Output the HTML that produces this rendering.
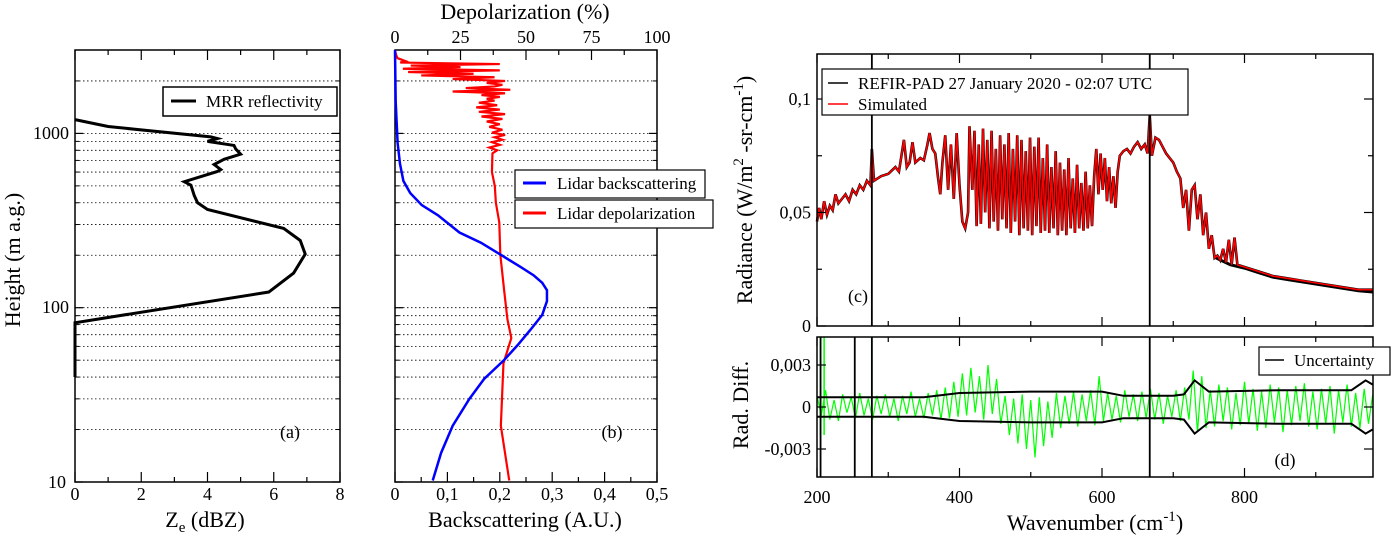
<!DOCTYPE html>
<html><head><meta charset="utf-8"><style>
html,body{margin:0;padding:0;background:#fff}
svg, svg text{font-family:"Liberation Serif","Times New Roman",serif}
</style></head><body>
<svg id="fig" width="1393" height="537" viewBox="0 0 1393 537" xmlns="http://www.w3.org/2000/svg" font-family="Liberation Serif, serif"></svg>
<script>
// Panel (a) MRR reflectivity
const aZe=[0,1.0,4.1,4.3,4.0,4.8,4.85,5.0,4.5,4.2,4.4,4.3,3.3,3.5,3.6,3.7,4.0,6.3,6.8,6.95,6.6,5.85,0,0];
const aH=[1200,1095,955,934,900,853,815,760,710,663,620,605,528,505,440,400,366,285,243,203,158,123,82,40];
// Panel (b) lidar backscattering
const bH=[3006,1520,881,670,534,455,388,339,270,236,201,171,153,139,126,109,91,75,61,50,39,30,21,14.7,10.2];
const bBack=[0,.0013,.005,.0095,.016,.029,.051,.082,.123,.164,.202,.24,.265,.281,.290,.290,.281,.259,.234,.208,.170,.142,.110,.088,.072];
// Panel (b) lidar depolarization (%)
const dH=[10.2,21,48,67,86,124,201,309,400,498,600,768,800,830,860,890,920,950,980,1010,1050,1090,1130,1170,1210,1250,1290,1330,1370,1410,1450,1500,1540,1580,1620,1660,1700,1740,1780,1820,1860,1900,1950,2000,2050,2100,2150,2200,2250,2300,2350,2400,2450,2500,2550,2600,2700,2800,3000];
const dVal=[43.6,40.4,41.4,44.4,42.9,41.7,40.2,39.8,38.5,38.1,37,37.2,39,36,40,37,41,38,42,37,41,36,40,35,41,33,42,32,40,31,39,32,38,35,40,33,42,22,44,27,38,41,35,42,22,38,10,30,5,40,3,25,6,40,2,4,1,0.5,0];
// Panel (c) spectrum
const cWn=[200,203,206,210,214,218,222,226,230,235,240,245,250,255,260,265,270,275,277,280,290,300,310,315,322,326,330,334,338,345,350,355,358,362,366,370,373,376,380,384,388,392,396,400,404,408,412,414,418,421,424,427,430,433,436,439,442,445,448,451,454,457,460,463,466,469,472,475,478,481,484,487,490,493,496,499,502,505,508,511,514,517,520,523,526,529,532,535,538,541,544,547,550,553,556,559,562,565,568,571,574,577,580,583,586,589,592,595,598,601,604,607,610,613,616,619,622,625,630,635,640,645,650,655,660,664,667,670,675,680,685,690,695,700,705,710,714,718,722,726,730,734,738,742,746,750,754,758,762,766,770,774,778,782,786,790,800,820,840,860,880,900,920,940,960,980];
const cRad=[.046,.052,.047,.055,.049,.053,.051,.058,.054,.056,.058,.055,.060,.058,.062,.060,.064,.062,.078,.064,.066,.067,.070,.068,.082,.070,.072,.081,.072,.074,.073,.080,.085,.078,.076,.065,.058,.072,.084,.060,.080,.056,.085,.062,.046,.043,.050,.088,.060,.086,.044,.080,.045,.087,.050,.082,.043,.086,.046,.078,.042,.084,.047,.080,.043,.085,.041,.078,.046,.084,.040,.082,.043,.077,.042,.083,.040,.079,.044,.083,.041,.074,.042,.080,.041,.070,.043,.077,.040,.072,.042,.069,.040,.074,.043,.065,.041,.071,.043,.063,.042,.068,.043,.062,.044,.066,.078,.058,.076,.060,.074,.055,.070,.054,.066,.052,.068,.075,.077,.078,.076,.079,.081,.078,.080,.076,.093,.075,.083,.082,.079,.076,.074,.072,.068,.065,.052,.060,.042,.060,.062,.047,.058,.040,.050,.034,.040,.030,.031,.029,.034,.028,.038,.027,.039,.027,.026,.024,.022,.021,.020,.019,.018,.017,.016,.016];
const cTailWn=[760,780,800,820,840,860,880,900,920,940,960,980];
const cTailMeas=[.030,.027,.0255,.0235,.0215,.0205,.0195,.0185,.0175,.0165,.0155,.015];
// Panel (d) residuals (x1e-3) at 6 cm-1 steps from 200
const gStart=200, gStep=6;
const gRes=[.8,-.6,1.2,-.9,.5,-1.0,.9,-.4,.7,-.8,1.0,-.6,.6,-.9,.8,-.5,.9,-.7,.6,-1.0,.8,-.5,1.1,-.7,.6,-.8,
1.0,-.6,1.2,-.9,1.4,-.8,1.8,-.7,
2.4,-.6,2.8,-.4,2.2,-.9,3.0,-.5,2.0,-1.2,
.8,-2.0,.6,-2.6,.9,-3.0,.5,-3.6,.7,-2.8,.4,-2.2,
1.0,-1.5,.8,-1.2,1.1,-1.4,.9,-1.0,1.2,-1.3,2.2,-1.0,
1.0,-.9,.8,-1.1,1.2,-.7,.9,-1.0,1.1,-.8,1.3,-.9,1.0,-1.2,.8,-.7,1.2,-1.0,1.4,-.9,
2.6,-1.8,2.2,-1.5,
1.2,-1.4,1.6,-1.0,1.4,-1.6,1.0,-1.3,1.8,-1.2,1.3,-1.7,1.1,-1.5,1.6,-1.1,1.4,-1.8,1.2,-1.3,1.5,-1.0,1.7,-1.4,1.1,-1.6,1.3,-1.2,1.5,-1.9,1.2,-1.1,1.6,-1.4,1.0,-1.5,1.3,-1.2,.9];
const uWn=[200,350,400,500,600,630,700,715,730,750,850,950,970,980];
const uVal=[.0007,.0007,.001,.0011,.0011,.0008,.0008,.0009,.0019,.0011,.0012,.0012,.0019,.0016];
const spikeWn=[205,253,277,667];

const NS="http://www.w3.org/2000/svg";
const svg=document.getElementById('fig');
function el(tag,attrs,parent,text){const e=document.createElementNS(NS,tag);for(const k in attrs)e.setAttribute(k,attrs[k]);if(text!==undefined)e.textContent=text;(parent||svg).appendChild(e);return e;}
const FF='Liberation Serif, serif';

const yLog=h=>482-(Math.log10(h)-1)*174.3;
const xA=v=>75+v*33.125;
const xB=v=>395+v*524;
const xDp=p=>395+p*2.62;
const xC=w=>817+(w-200)*0.7125;
const yC=r=>326-r*2270;
const yD=v=>407-v*14000;

function box(x,y,w,h,name){const r=el('rect',{x,y,width:w,height:h,fill:'none',stroke:'#000','stroke-width':1.5});}
function txt(x,y,s,opts,name){const t=el('text',Object.assign({x,y,'font-size':17,fill:'#000','font-family':FF},opts||{}),svg,s);return t;}

const gridH=[20,30,40,50,60,70,80,90,100,200,300,400,500,600,700,800,900,1000,2000];
[[75,340,'a'],[395,657,'b']].forEach(([x0,x1,p])=>{
  gridH.forEach(h=>{const l=el('line',{x1:x0,x2:x1,y1:yLog(h),y2:yLog(h),stroke:'#000','stroke-width':0.8,'stroke-dasharray':'1.5,2.5'});});
  [10,100,1000].forEach(h=>{[[x0,x0+8],[x1,x1-8]].forEach(([a,b])=>{const l=el('line',{x1:a,x2:b,y1:yLog(h),y2:yLog(h),stroke:'#000','stroke-width':1.2});});});
  [20,30,40,50,60,70,80,90,200,300,400,500,600,700,800,900,2000].forEach(h=>{[[x0,x0+4],[x1,x1-4]].forEach(([a,b])=>{const l=el('line',{x1:a,x2:b,y1:yLog(h),y2:yLog(h),stroke:'#000','stroke-width':1});});});
});
box(75,50,265,432,'panel-a-frame');
box(395,50,262,432,'panel-b-frame');

for(let v=0;v<=8;v++){const len=v%2==0?10:5;[[482,482-len],[50,50+len]].forEach(([a,b])=>{const l=el('line',{x1:xA(v),x2:xA(v),y1:a,y2:b,stroke:'#000','stroke-width':1.2});});
 if(v%2==0)txt(xA(v),500,String(v),{'text-anchor':'middle','font-size':18},'x-tick-label-a');}
[[10,488],[100,313],[1000,139]].forEach(([h,y])=>txt(h==10?66:69,y,String(h),{'text-anchor':'end','font-size':18},'y-tick-label'));
txt(20,260,'Height (m a.g.)',{'text-anchor':'middle','font-size':22,transform:'rotate(-90 20 260)'},'y-axis-title-a');
const zt=el('text',{x:205,y:527,'font-size':22,'text-anchor':'middle','font-family':FF});
el('tspan',{},zt,'Z');el('tspan',{'font-size':15,dy:5},zt,'e');el('tspan',{dy:-5},zt,' (dBZ)');

let pa=aZe.map((v,i)=>xA(v)+','+yLog(aH[i])).join(' ');
let la=el('polyline',{points:pa,fill:'none',stroke:'#000','stroke-width':3});
box(163,87,174,29,'legend-a');
el('line',{x1:171,x2:196,y1:101,y2:101,stroke:'#000','stroke-width':3});
txt(206,107,'MRR reflectivity',{},'legend-entry-mrr');
txt(290,438,'(a)',{'font-size':18,'text-anchor':'middle'},'panel-label-a');

for(let i=0;i<=10;i++){const v=i*0.05;const len=i%2==0?10:5;const l=el('line',{x1:xB(v),x2:xB(v),y1:482,y2:482-len,stroke:'#000','stroke-width':1.2});
 if(i%2==0)txt(xB(v),500,i==0?'0':('0,'+(i/2)),{'text-anchor':'middle','font-size':18},'x-tick-label-b');}
for(let i=0;i<=8;i++){const p=i*12.5;const len=i%2==0?10:5;const l=el('line',{x1:xDp(p),x2:xDp(p),y1:50,y2:50+len,stroke:'#000','stroke-width':1.2});
 if(i%2==0)txt(xDp(p),43,String(p),{'text-anchor':'middle','font-size':18},'top-tick-label-b');}
txt(525,19,'Depolarization (%)',{'text-anchor':'middle','font-size':22},'top-axis-title-b');
txt(525,527,'Backscattering (A.U.)',{'text-anchor':'middle','font-size':22},'x-axis-title-b');
let pd=dVal.map((v,i)=>xDp(v)+','+yLog(dH[i])).join(' ');
let ld=el('polyline',{points:pd,fill:'none',stroke:'#f00','stroke-width':2.2});
let pb=bBack.map((v,i)=>xB(v)+','+yLog(bH[i])).join(' ');
let lb=el('polyline',{points:pb,fill:'none',stroke:'#00f','stroke-width':2.5});
el('rect',{x:515,y:170,width:190,height:28,fill:'#fff',stroke:'#000','stroke-width':1.2});
el('line',{x1:523,x2:546,y1:183,y2:183,stroke:'#00f','stroke-width':3});
txt(557,189,'Lidar backscattering',{},'legend-entry-backscatter');
el('rect',{x:515,y:200,width:198,height:28,fill:'#fff',stroke:'#000','stroke-width':1.2});
el('line',{x1:523,x2:546,y1:213,y2:213,stroke:'#f00','stroke-width':3});
txt(557,219,'Lidar depolarization',{},'legend-entry-depol');
txt(612,438,'(b)',{'font-size':18,'text-anchor':'middle'},'panel-label-b');

const pc=cWn.map((w,i)=>xC(w)+','+yC(cRad[i])).join(' ');
let lm=el('polyline',{points:pc,fill:'none',stroke:'#000','stroke-width':2.6});
let lt=el('polyline',{points:cTailWn.map((w,i)=>xC(w)+','+yC(cTailMeas[i])).join(' '),fill:'none',stroke:'#000','stroke-width':3});
let ls=el('polyline',{points:pc,fill:'none',stroke:'#f00','stroke-width':1.6});
[277,667].forEach(w=>{const l=el('line',{x1:xC(w),x2:xC(w),y1:54,y2:326,stroke:'#000','stroke-width':1.8});});
box(817,54,556,272,'panel-c-frame');
for(let w=200;w<=900;w+=100){const len=w%200==0?9:5;[[326,326-len],[54,54+len]].forEach(([a,b])=>{const l=el('line',{x1:xC(w),x2:xC(w),y1:a,y2:b,stroke:'#000','stroke-width':1.2});});}
[0,0.025,0.05,0.075,0.1].forEach((r,i)=>{const len=i%2==0?9:5;[[817,817+len],[1373,1373-len]].forEach(([a,b])=>{const l=el('line',{x1:a,x2:b,y1:yC(r),y2:yC(r),stroke:'#000','stroke-width':1.2});});});
[['0',0],['0,05',0.05],['0,1',0.1]].forEach(([s,r])=>txt(811,yC(r)+6,s,{'text-anchor':'end','font-size':18},'y-tick-label-c'));
el('rect',{x:822,y:69,width:366,height:46,fill:'#fff',stroke:'#000','stroke-width':1.2});
el('line',{x1:828,x2:848,y1:83,y2:83,stroke:'#000','stroke-width':1.5});
txt(858,89,'REFIR-PAD 27 January 2020 - 02:07 UTC',{},'legend-entry-measured');
el('line',{x1:828,x2:848,y1:104,y2:104,stroke:'#f00','stroke-width':1.5});
txt(858,110,'Simulated',{},'legend-entry-simulated');
txt(858,302,'(c)',{'font-size':18,'text-anchor':'middle'},'panel-label-c');
const rt=el('text',{x:0,y:0,'font-size':22,'text-anchor':'middle','font-family':FF,transform:'translate(752 190) rotate(-90)'});
el('tspan',{},rt,'Radiance (W/m');el('tspan',{'font-size':15,dy:-9},rt,'2');el('tspan',{dy:9},rt,' -sr-cm');el('tspan',{'font-size':15,dy:-9},rt,'-1');el('tspan',{dy:9},rt,')');

const pg=gRes.map((v,i)=>xC(gStart+i*gStep)+','+yD(v/1000)).join(' ');
let lg=el('polyline',{points:pg,fill:'none',stroke:'#0f0','stroke-width':1.2});
[[205,0.005],[210,0.005],[277,0.005]].forEach(([w,v])=>{const l=el('line',{x1:xC(w),x2:xC(w),y1:yD(v),y2:yD(-0.002),stroke:'#0f0','stroke-width':1.5});});
let up=el('polyline',{points:uWn.map((w,i)=>xC(w)+','+yD(uVal[i])).join(' '),fill:'none',stroke:'#000','stroke-width':2});
let lo=el('polyline',{points:uWn.map((w,i)=>xC(w)+','+yD(-uVal[i])).join(' '),fill:'none',stroke:'#000','stroke-width':2});
spikeWn.forEach(w=>{const l=el('line',{x1:xC(w),x2:xC(w),y1:337,y2:477,stroke:'#000','stroke-width':1.8});});
box(817,337,556,140,'panel-d-frame');
for(let w=200;w<=900;w+=100){const len=w%200==0?9:5;[[477,477-len],[337,337+len]].forEach(([a,b])=>{const l=el('line',{x1:xC(w),x2:xC(w),y1:a,y2:b,stroke:'#000','stroke-width':1.2});});
 if(w%200==0)txt(xC(w),503,String(w),{'text-anchor':'middle','font-size':18},'x-tick-label-d');}
[-0.003,0,0.003].forEach(v=>{[[817,826],[1373,1364]].forEach(([a,b])=>{const l=el('line',{x1:a,x2:b,y1:yD(v),y2:yD(v),stroke:'#000','stroke-width':1.2});});});
[['0,003',0.003],['0',0],['-0,003',-0.003]].forEach(([s,v])=>txt(811,yD(v)+6,s,{'text-anchor':'end','font-size':18},'y-tick-label-d'));
el('rect',{x:1259,y:347,width:131,height:28,fill:'#fff',stroke:'#000','stroke-width':1.2});
el('line',{x1:1265,x2:1284,y1:360,y2:360,stroke:'#000','stroke-width':1.5});
txt(1294,366,'Uncertainty',{},'legend-entry-uncertainty');
txt(1285,466,'(d)',{'font-size':18,'text-anchor':'middle'},'panel-label-d');
txt(748,405,'Rad. Diff.',{'text-anchor':'middle','font-size':22,transform:'rotate(-90 748 405)'},'y-axis-title-d');
const wt=el('text',{x:1095,y:530,'font-size':22,'text-anchor':'middle','font-family':FF});
el('tspan',{},wt,'Wavenumber (cm');el('tspan',{'font-size':15,dy:-9},wt,'-1');el('tspan',{dy:9},wt,')');
</script>
</body></html>
